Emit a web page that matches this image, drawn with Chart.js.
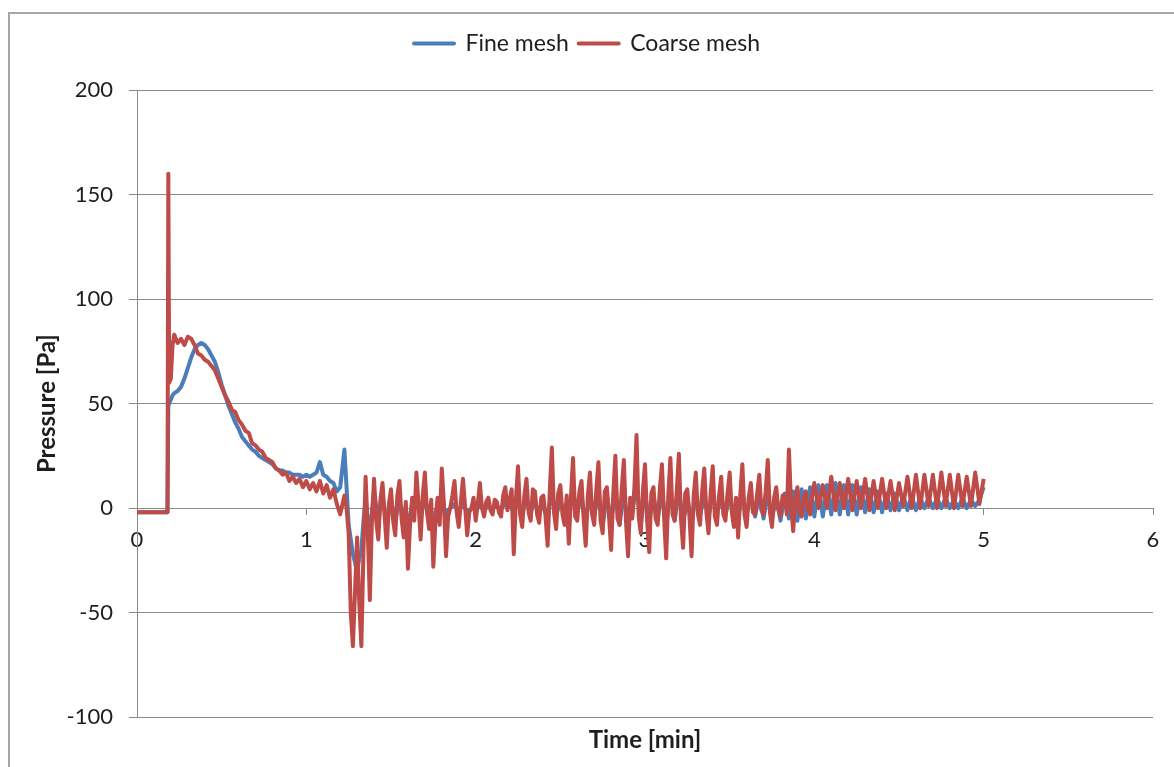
<!DOCTYPE html>
<html>
<head>
<meta charset="utf-8">
<script src="https://cdn.jsdelivr.net/npm/chart.js@4.4.1/dist/chart.umd.min.js"></script>
<style>
    html, body { margin: 0; padding: 0; background: #fff; }
    body { width: 1174px; height: 767px; position: relative; overflow: hidden; }
    #frame {
        position: absolute; left: 8px; top: 12px;
        width: 1200px; height: 800px;
        border-left: 2px solid #a6a6a6;
        border-top: 2px solid #a6a6a6;
    }
    #pressureChart { position: absolute; left: 0; top: 0; }
</style>
</head>
<body>
<div id="frame"></div>
<canvas id="pressureChart" width="1174" height="767"></canvas>
<script>

// =====================================
// DATA
// =====================================

const timeMin = [
    0, 0.05, 0.1, 0.15, 0.18, 0.185, 0.19, 0.2, 0.21, 0.22,
    0.24, 0.26, 0.28, 0.3, 0.32, 0.34, 0.36, 0.38, 0.4, 0.42,
    0.44, 0.46, 0.48, 0.5, 0.52, 0.54, 0.56, 0.58, 0.6, 0.62,
    0.64, 0.66, 0.68, 0.7, 0.72, 0.74, 0.76, 0.78, 0.8, 0.82,
    0.84, 0.86, 0.88, 0.9, 0.92, 0.94, 0.96, 0.98, 1, 1.02,
    1.04, 1.06, 1.08, 1.1, 1.12, 1.14, 1.16, 1.18, 1.2,
    1.225, 1.2375, 1.25, 1.2625, 1.275, 1.2875, 1.3, 1.3125,
    1.325, 1.3375, 1.35, 1.3625, 1.375, 1.3875, 1.4, 1.4125,
    1.425, 1.4375, 1.45, 1.4625, 1.475, 1.4875, 1.5, 1.5125,
    1.525, 1.5375, 1.55, 1.5625, 1.575, 1.5875, 1.6, 1.6125,
    1.625, 1.6375, 1.65, 1.6625, 1.675, 1.6875, 1.7, 1.7125,
    1.725, 1.7375, 1.75, 1.7625, 1.775, 1.7875, 1.8, 1.8125,
    1.825, 1.8375, 1.85, 1.8625, 1.875, 1.8875, 1.9, 1.9125,
    1.925, 1.9375, 1.95, 1.9625, 1.975, 1.9875, 2.0, 2.0125,
    2.025, 2.0375, 2.05, 2.0625, 2.075, 2.0875, 2.1, 2.1125,
    2.125, 2.1375, 2.15, 2.1625, 2.175, 2.1875, 2.2, 2.2125,
    2.225, 2.2375, 2.25, 2.2625, 2.275, 2.2875, 2.3, 2.3125,
    2.325, 2.3375, 2.35, 2.3625, 2.375, 2.3875, 2.4, 2.4125,
    2.425, 2.4375, 2.45, 2.4625, 2.475, 2.4875, 2.5, 2.5125,
    2.525, 2.5375, 2.55, 2.5625, 2.575, 2.5875, 2.6, 2.6125,
    2.625, 2.6375, 2.65, 2.6625, 2.675, 2.6875, 2.7, 2.7125,
    2.725, 2.7375, 2.75, 2.7625, 2.775, 2.7875, 2.8, 2.8125,
    2.825, 2.8375, 2.85, 2.8625, 2.875, 2.8875, 2.9, 2.9125,
    2.925, 2.9375, 2.95, 2.9625, 2.975, 2.9875, 3.0, 3.0125,
    3.025, 3.0375, 3.05, 3.0625, 3.075, 3.0875, 3.1, 3.1125,
    3.125, 3.1375, 3.15, 3.1625, 3.175, 3.1875, 3.2, 3.2125,
    3.225, 3.2375, 3.25, 3.2625, 3.275, 3.2875, 3.3, 3.3125,
    3.325, 3.3375, 3.35, 3.3625, 3.375, 3.3875, 3.4, 3.4125,
    3.425, 3.4375, 3.45, 3.4625, 3.475, 3.4875, 3.5, 3.5125,
    3.525, 3.5375, 3.55, 3.5625, 3.575, 3.5875, 3.6, 3.6125,
    3.625, 3.6375, 3.65, 3.6625, 3.675, 3.6875, 3.7, 3.7125,
    3.725, 3.7375, 3.75, 3.7625, 3.775, 3.7875, 3.8, 3.8125,
    3.825, 3.8375, 3.85, 3.8625, 3.875, 3.8875, 3.9, 3.9125,
    3.925, 3.9375, 3.95, 3.9625, 3.975, 3.9875, 4.0, 4.025,
    4.05, 4.075, 4.1, 4.125, 4.15, 4.175, 4.2,
    4.225, 4.25, 4.275, 4.3, 4.325, 4.35, 4.375, 4.4,
    4.425, 4.45, 4.475, 4.5, 4.525, 4.55, 4.575, 4.6,
    4.625, 4.65, 4.675, 4.7, 4.725, 4.75, 4.775, 4.8,
    4.825, 4.85, 4.875, 4.9, 4.925, 4.95, 4.975, 5.0
];

const fineMesh = [
    -2, -2, -2, -2, -2, 49, 50, 52, 54, 55,
    56, 58, 62, 67, 72, 76, 78, 79, 78, 76,
    73, 70, 65, 59, 54, 49, 45, 41, 38, 34,
    32, 30, 28, 27, 25, 24, 23, 22, 21, 19,
    18, 18, 17, 17, 16, 16, 16, 15, 16, 15,
    16, 17, 22, 16, 15, 13, 12, 8, 10,
    28, 10, -8, -15, -22, -26, -31, -24,
    -20, -6, 4, -5, -12, -2, 8, 1,
    -6, 0, 6, -1, -8, -2, 4, -1,
    -6, -1, 3, 0, -4, -2, -8, -3,
    2, 4, 6, 1, -4, 0, 5, 1,
    -3, -5, -6, -2, 1, 3, 4, 0,
    -4, -1, 0, 1, 2, 0, -2, 0,
    2, 0, -2, -1, 0, 1, -1, 0,
    2, 0, -1, 0, 1, 0, 0, 1,
    1, 0, 0, 1, 2, 1, 1, 0,
    -2, 1, 3, 0, -3, 1, 4, 1,
    -2, 1, 3, 0, -3, 0, 2, -2,
    -6, 2, 8, 1, -4, 0, 4, 0,
    -3, -4, -6, 2, 8, 3, -2, 2,
    5, -1, -6, 0, 6, 1, -4, 2,
    8, 0, -8, -1, 6, 0, -7, 1,
    9, 0, -8, 0, 8, 0, -8, -4,
    -2, 5, 12, 2, -8, 0, 8, 0,
    -7, 0, 6, 0, -5, 1, 7, 0,
    -8, 0, 8, 1, -6, 1, 9, 1,
    -7, -1, 5, -1, -7, 0, 6, 1,
    -3, 1, 6, 1, -4, 1, 7, 2,
    -2, 1, 5, 1, -3, 1, 6, 1,
    -3, -4, -4, 1, 7, 2, -3, 1,
    6, 1, -4, 1, 7, 1, -5, 1,
    8, 1, -5, 0, 6, 0, -6, 0,
    7, 1, -5, 1, 8, 1, -6, 1,
    9, 2, -5, 2, 10, 3, -4, 11,
    -4, 11, -3, 12, -3, 11, -3,
    11, -3, 10, -2, 9, -2, 8, -2,
    7, -1, 7, -1, 6, -1, 6, -1,
    5, 0, 5, 0, 5, 0, 5, 0,
    4, 0, 5, 0, 4, 1, 4, 10
];

const coarseMesh = [
    -2, -2, -2, -2, -2, 160, 60, 62, 78, 83,
    79, 81, 78, 82, 81, 78, 74, 73, 71, 70,
    68, 66, 62, 58, 54, 51, 47, 46, 42, 40,
    37, 36, 31, 30, 28, 27, 24, 23, 22, 19,
    18, 16, 17, 13, 15, 12, 14, 10, 13, 9,
    12, 8, 13, 7, 11, 5, 9, 2, -3,
    6, 0, -12, -50, -66, -40, -14, -45,
    -66, -20, 15, -10, -44, -5, 14, -6,
    -15, 4, 12, -4, -19, 2, 9, -6,
    -13, 6, 13, -5, -14, 3, -29, -8,
    5, -6, 17, 2, -15, 6, 17, -2,
    -10, 4, -28, -6, 5, -8, 19, 2,
    -23, -4, 0, 6, 13, -2, -9, 3,
    14, 1, -13, -2, 0, 5, -6, 2,
    12, 0, -4, 3, 5, -1, -3, 4,
    3, -2, -4, 6, 10, -1, 4, 9,
    -22, 4, 20, -3, -9, 6, 14, -2,
    -6, 9, 8, -3, -7, 5, 6, -4,
    -18, 8, 29, -2, -10, 7, 11, -3,
    -8, 6, -17, 5, 24, -4, -6, 8,
    13, -5, -18, 6, 17, -3, -8, 9,
    22, -6, -12, 8, 10, -4, -20, 7,
    25, -5, -8, 9, 23, -6, -23, 5,
    -5, 10, 35, -4, -12, 8, 21, -6,
    -21, 7, 10, -5, -8, 9, 21, -4,
    -24, 6, 24, -3, -6, 8, 26, -5,
    -19, 7, 9, -4, -23, 6, 17, -3,
    -8, 8, 19, -2, -12, 7, 20, -4,
    -8, 6, 15, -3, -6, 7, 17, -2,
    -9, 5, -14, 6, 21, -3, -9, 5,
    12, -2, -3, 7, 16, -1, -3, 8,
    23, -2, -9, 5, 10, -1, -4, 6,
    6, -3, 28, 2, -11, 4, 10, -2,
    -4, 5, 8, -1, -3, 6, 12, 0,
    11, 0, 15, -1, 12, 0, 14,
    -1, 13, 0, 14, -1, 13, 0, 14,
    0, 13, -1, 12, 1, 15, 0, 16,
    0, 16, 1, 16, 0, 17, 1, 16,
    0, 16, 1, 15, 1, 17, 2, 14
];

const seriesNames = ['Fine mesh', 'Coarse mesh'];
const xTickRange = [0, 6];
const yTickRange = [-100, 200];


// =====================================
// STYLE
// =====================================

const TEXT_COLOR = '#1e1e1e';
const AXIS_COLOR = '#8a8a8a';
const FONT = 'Lato, "Open Sans", sans-serif';

Chart.defaults.font.family = FONT;
Chart.defaults.color = TEXT_COLOR;

const toPoints = (values) =>
    timeMin.map((t, i) => ({ x: t, y: values[i] }));


// =====================================
// CHART
// =====================================

new Chart(document.getElementById('pressureChart'), {

    type: 'line',

    data: {
        datasets: [
            {
                label: seriesNames[0],
                data: toPoints(fineMesh),
                borderColor: '#4a7ebb',
                backgroundColor: '#4a7ebb',
                borderWidth: 4,
                borderJoinStyle: 'round',
                pointRadius: 0,
                tension: 0,
                order: 2
            },
            {
                label: seriesNames[1],
                data: toPoints(coarseMesh),
                borderColor: '#be4b48',
                backgroundColor: '#be4b48',
                borderWidth: 4,
                borderJoinStyle: 'round',
                pointRadius: 0,
                tension: 0,
                order: 1
            }
        ]
    },

    options: {
        responsive: false,
        animation: false,
        devicePixelRatio: 1,

        layout: {
            padding: { top: 22, left: 0, right: 0, bottom: 0 }
        },

        plugins: {
            legend: {
                position: 'top',
                labels: {
                    boxWidth: 40,
                    boxHeight: 0,
                    padding: 10,
                    color: TEXT_COLOR,
                    font: { size: 23 },
                    sort: (a, b) => a.datasetIndex - b.datasetIndex
                }
            },

            // empty spacer between legend and plot
            subtitle: {
                display: true,
                text: '',
                position: 'top',
                weight: 500,
                padding: 0,
                font: { size: 25, lineHeight: 1 }
            },

            title: {
                display: true,
                text: 'Time [min]',
                position: 'bottom',
                fullSize: false,
                color: TEXT_COLOR,
                font: { size: 24, weight: 'bold' },
                padding: { top: 9, bottom: 12 }
            },

            tooltip: { enabled: false }
        },

        scales: {
            x: {
                type: 'linear',
                position: { y: 0 },
                min: xTickRange[0],
                max: xTickRange[1],
                // labels sit on top of the traces, like the original
                z: 1,
                ticks: {
                    stepSize: 1,
                    padding: 12,
                    color: TEXT_COLOR,
                    font: { size: 22 }
                },
                grid: {
                    drawOnChartArea: false,
                    drawTicks: true,
                    tickLength: 7,
                    color: AXIS_COLOR
                },
                // the y=0 gridline already draws the axis line under the traces
                border: { display: false },
                afterFit: (scale) => {
                    scale.paddingLeft = 0;
                    scale.paddingRight = 21;
                }
            },

            y: {
                type: 'linear',
                min: yTickRange[0],
                max: yTickRange[1],
                ticks: {
                    stepSize: 50,
                    padding: 16,
                    color: TEXT_COLOR,
                    font: { size: 22 }
                },
                grid: {
                    color: AXIS_COLOR,
                    lineWidth: 1,
                    drawTicks: true,
                    tickLength: 8
                },
                border: { color: AXIS_COLOR, width: 1 },
                title: {
                    display: true,
                    text: 'Pressure [Pa]',
                    color: TEXT_COLOR,
                    font: { size: 24, weight: 'bold' },
                    padding: { top: 33, bottom: 0 }
                },
                afterFit: (scale) => {
                    scale.width = 137;
                }
            }
        }
    }
});
</script>
</body>
</html>
